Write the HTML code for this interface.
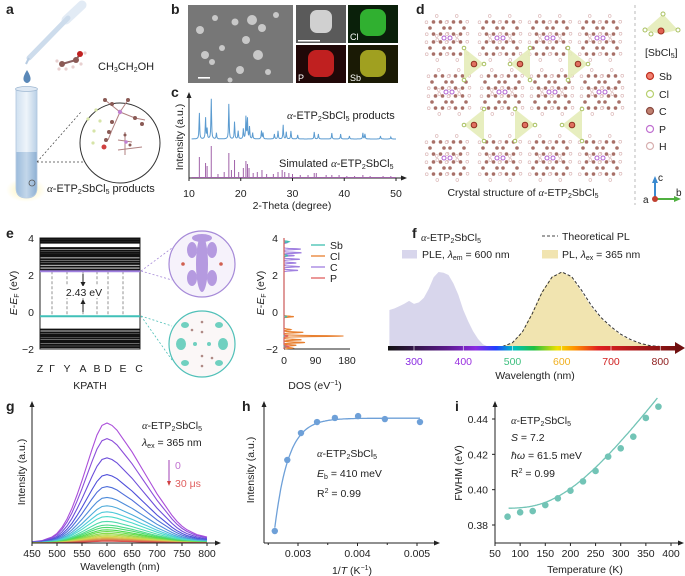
<!DOCTYPE html>
<html><head><meta charset="utf-8"><style>
html,body{margin:0;padding:0;background:#fff}
svg{display:block;font-family:"Liberation Sans",Arial,sans-serif}
text{fill:#222}
</style></head><body>
<svg id="fig" width="685" height="576" viewBox="0 0 685 576" xmlns="http://www.w3.org/2000/svg">
<defs>
<linearGradient id="tubeG" x1="0" x2="1"><stop offset="0" stop-color="#cfe0f0"/><stop offset="0.5" stop-color="#eef4fa"/><stop offset="1" stop-color="#b9d0e6"/></linearGradient>
<linearGradient id="liqG" x1="0" x2="1"><stop offset="0" stop-color="#9dbcdc"/><stop offset="0.5" stop-color="#c3d7ea"/><stop offset="1" stop-color="#8fb1d4"/></linearGradient>
<linearGradient id="specG" x1="388" x2="680" gradientUnits="userSpaceOnUse">
<stop offset="0" stop-color="#111"/><stop offset="0.2" stop-color="#5a1a8a"/><stop offset="0.3" stop-color="#8a2be2"/><stop offset="0.37" stop-color="#2040ff"/><stop offset="0.43" stop-color="#00c0c0"/><stop offset="0.5" stop-color="#20c040"/><stop offset="0.58" stop-color="#f0e000"/><stop offset="0.64" stop-color="#ff9000"/><stop offset="0.72" stop-color="#e02020"/><stop offset="1" stop-color="#701010"/></linearGradient>
<radialGradient id="glow"><stop offset="0" stop-color="#fff3b0"/><stop offset="1" stop-color="#fff3b0" stop-opacity="0"/></radialGradient>
</defs>

<g font-weight="bold" font-size="14">
<text x="6" y="14">a</text>
<text x="171" y="14">b</text>
<text x="171" y="97">c</text>
<text x="416" y="14">d</text>
<text x="6" y="238">e</text>
<text x="412" y="238">f</text>
<text x="6" y="411">g</text>
<text x="242" y="411">h</text>
<text x="455" y="411">i</text>
</g>

<g>
<g>
<line x1="82" y1="5" x2="66" y2="20" stroke="#e2ebf5" stroke-width="9" stroke-linecap="round"/>
<line x1="68" y1="18" x2="29" y2="58" stroke="#cddcec" stroke-width="5" stroke-linecap="round"/>
<line x1="29" y1="58" x2="26" y2="64" stroke="#b8cce2" stroke-width="2"/>
</g>
<path d="M27 70 Q22 78 24 81 Q27 85 30 81 Q32 78 27 70Z" fill="#5a88b8"/>
<g transform="translate(70,62)">
<line x1="-8" y1="2" x2="6" y2="-2" stroke="#8a6060" stroke-width="2"/><line x1="6" y1="-2" x2="10" y2="-8" stroke="#8a6060" stroke-width="2"/>
<circle cx="-8" cy="2" r="3" fill="#8a5a55"/><circle cx="6" cy="-2" r="3" fill="#8a5a55"/><circle cx="10" cy="-8" r="3" fill="#c02020"/>
<circle cx="-13" cy="-1" r="1.6" fill="#e8d0d0"/><circle cx="-11" cy="7" r="1.6" fill="#e8d0d0"/><circle cx="-4" cy="7" r="1.6" fill="#e8d0d0"/><circle cx="3" cy="5" r="1.6" fill="#e8d0d0"/><circle cx="11" cy="2" r="1.6" fill="#e8d0d0"/><circle cx="15" cy="-9" r="1.6" fill="#e8d0d0"/>
</g>
<text x="98" y="70" font-size="11">CH<tspan font-size="7" dy="2">3</tspan><tspan dy="-2">CH</tspan><tspan font-size="7" dy="2">2</tspan><tspan dy="-2">OH</tspan></text>
<ellipse cx="26" cy="190" rx="20" ry="12" fill="url(#glow)"/>
<g>
<path d="M16 89 L16 188 Q16 198 26.5 198 Q37 198 37 188 L37 89Z" fill="url(#tubeG)" stroke="#b0c6de" stroke-width="0.8"/>
<path d="M16.4 152 L16.4 188 Q16.4 197.5 26.5 197.5 Q36.6 197.5 36.6 188 L36.6 152Z" fill="url(#liqG)"/>
<ellipse cx="26.5" cy="89" rx="11" ry="2.5" fill="#dfe9f4" stroke="#9fb8d2" stroke-width="0.8"/>
<circle cx="32" cy="183" r="3" fill="none" stroke="#555" stroke-width="0.8"/>
</g>
<line x1="37" y1="162" x2="81" y2="112" stroke="#444" stroke-width="0.7" stroke-dasharray="2,2"/>
<line x1="37" y1="162" x2="153" y2="162" stroke="#444" stroke-width="0.7" stroke-dasharray="2,2"/>
<circle cx="120" cy="143" r="40" fill="#fff" stroke="#333" stroke-width="1"/>
<g stroke="#b08080" stroke-width="1">
<line x1="105" y1="100" x2="120" y2="112"/><line x1="120" y1="112" x2="128" y2="100"/><line x1="120" y1="112" x2="112" y2="130"/><line x1="112" y1="130" x2="108" y2="140"/><line x1="120" y1="112" x2="135" y2="118"/><line x1="135" y1="118" x2="145" y2="120"/>
<line x1="118" y1="140" x2="132" y2="142"/><line x1="125" y1="132" x2="125" y2="155"/><line x1="118" y1="150" x2="142" y2="147"/>
</g>
<g fill="#8a5a55"><circle cx="105" cy="100" r="2"/><circle cx="112" cy="104" r="2"/><circle cx="128" cy="100" r="2"/><circle cx="112" cy="122" r="2"/><circle cx="109" cy="132" r="2"/><circle cx="106" cy="140" r="2"/><circle cx="135" cy="118" r="2"/><circle cx="142" cy="124" r="2"/><circle cx="125" cy="135" r="1.5"/><circle cx="130" cy="145" r="1.5"/></g>
<circle cx="120" cy="112" r="2.2" fill="#c080d0"/><circle cx="126" cy="142" r="1.8" fill="#c080d0"/>
<g fill="#d6e4a8"><circle cx="96" cy="110" r="1.6"/><circle cx="88" cy="119" r="1.6"/><circle cx="100" cy="121" r="1.6"/><circle cx="94" cy="131" r="1.6"/><circle cx="93" cy="143" r="1.6"/></g>
<circle cx="104" cy="147" r="2.5" fill="#d04040"/>
<text x="47" y="192" font-size="11"><tspan font-style="italic" font-family="Liberation Serif">α</tspan>-ETP<tspan font-size="7" dy="2">2</tspan><tspan dy="-2">SbCl</tspan><tspan font-size="7" dy="2">5</tspan><tspan dy="-2"> products</tspan></text>
</g>

<g>
<rect x="188" y="5" width="105" height="78" fill="#777"/>
<g fill="#c8c8c8" id="semBlobs"></g>
<rect x="198" y="77" width="12" height="1.6" fill="#fff"/>
<rect x="296" y="5" width="50" height="38" fill="#5a5a5a"/>
<rect x="310" y="10" width="22" height="23" rx="7" fill="#d0d0d0"/>
<rect x="298" y="40" width="22" height="1.5" fill="#fff"/>
<rect x="348" y="5" width="50" height="38" fill="#0a200a"/>
<rect x="360" y="9" width="26" height="27" rx="8" fill="#30b030"/>
<text x="350" y="40" font-size="9" style="fill:#fff">Cl</text>
<rect x="296" y="45" width="50" height="38" fill="#200808"/>
<rect x="308" y="50" width="26" height="27" rx="8" fill="#c02020"/>
<text x="298" y="81" font-size="9" style="fill:#fff">P</text>
<rect x="348" y="45" width="50" height="38" fill="#1a1a05"/>
<rect x="360" y="50" width="26" height="27" rx="8" fill="#a0a020"/>
<text x="350" y="81" font-size="9" style="fill:#fff">Sb</text>
</g>

<g>
<line x1="189" y1="178" x2="189" y2="96" stroke="#222" stroke-width="1"/>
<path d="M189 92 l-2.5 6 h5z" fill="#222"/>
<line x1="189" y1="178" x2="403" y2="178" stroke="#222" stroke-width="1"/>
<path d="M407 178 l-6 -2.5 v5z" fill="#222"/>
<g id="cTicks"></g>
<path id="xrdObs" fill="none" stroke="#5b9bd0" stroke-width="1"/>
<g id="xrdSim" stroke="#a062a8" stroke-width="1"></g>
<text x="287" y="119" font-size="11"><tspan font-style="italic" font-family="Liberation Serif">α</tspan>-ETP<tspan font-size="7" dy="2">2</tspan><tspan dy="-2">SbCl</tspan><tspan font-size="7" dy="2">5</tspan><tspan dy="-2"> products</tspan></text>
<text x="279" y="167" font-size="11">Simulated <tspan font-style="italic" font-family="Liberation Serif">α</tspan>-ETP<tspan font-size="7" dy="2">2</tspan><tspan dy="-2">SbCl</tspan><tspan font-size="7" dy="2">5</tspan></text>
<text transform="translate(183,137) rotate(-90)" text-anchor="middle" font-size="10.5">Intensity (a.u.)</text>
<text x="292" y="209" text-anchor="middle" font-size="10.5">2-Theta (degree)</text>
</g>

<g>
<g id="crystal"></g>
<text x="523" y="196" text-anchor="middle" font-size="10.5">Crystal structure of <tspan font-style="italic" font-family="Liberation Serif">α</tspan>-ETP<tspan font-size="7" dy="2">2</tspan><tspan dy="-2">SbCl</tspan><tspan font-size="7" dy="2">5</tspan></text>
<line x1="635" y1="5" x2="635" y2="205" stroke="#aaa" stroke-width="0.8" stroke-dasharray="3,3"/>
<g>
<path d="M645 30 L663 14 L678 30 L660 34Z" fill="#e4ecb8" opacity="0.9"/>
<circle cx="663" cy="14" r="2" fill="#fff" stroke="#a8c060"/><circle cx="645" cy="30" r="2" fill="#fff" stroke="#a8c060"/><circle cx="678" cy="30" r="2" fill="#fff" stroke="#a8c060"/><circle cx="651" cy="34" r="2" fill="#fff" stroke="#a8c060"/>
<circle cx="661" cy="31" r="3" fill="#e06050" stroke="#a03020"/>
</g>
<text x="645" y="56" font-size="10.5">[SbCl<tspan font-size="7" dy="2">5</tspan><tspan dy="-2">]</tspan></text>
<g font-size="10.5">
<circle cx="650" cy="76" r="3.5" fill="#f08070" stroke="#c03020" stroke-width="1.2"/><text x="659" y="80">Sb</text>
<circle cx="650" cy="94" r="3.5" fill="#fff" stroke="#b8d070" stroke-width="1.2"/><text x="659" y="98">Cl</text>
<circle cx="650" cy="111" r="3.5" fill="#c08070" stroke="#8a4a40" stroke-width="1.2"/><text x="659" y="115">C</text>
<circle cx="650" cy="129" r="3.5" fill="#fff" stroke="#c070d0" stroke-width="1.2"/><text x="659" y="133">P</text>
<circle cx="650" cy="146" r="3.5" fill="#fff" stroke="#d8b0b0" stroke-width="1.2"/><text x="659" y="150">H</text>
</g>
<g>
<line x1="655" y1="199" x2="655" y2="182" stroke="#3a8ad0" stroke-width="2"/><path d="M655 176 l-3 7 h6z" fill="#3a8ad0"/>
<line x1="655" y1="199" x2="675" y2="199" stroke="#50b040" stroke-width="2"/><path d="M681 199 l-7 -3 v6z" fill="#50b040"/>
<circle cx="655" cy="199" r="3" fill="#c04030"/>
<text x="658" y="181" font-size="10">c</text><text x="676" y="196" font-size="10">b</text><text x="643" y="203" font-size="10">a</text>
</g>
</g>

<g>
<rect x="40" y="238" width="100" height="111" fill="none" stroke="#222" stroke-width="1"/>
<g id="eBands"></g>
<g id="eTicks" font-size="10.5"></g>
<text transform="translate(17,293) rotate(-90)" text-anchor="middle" font-size="10.5"><tspan font-style="italic">E</tspan>-<tspan font-style="italic">E</tspan><tspan font-size="7" dy="2">F</tspan><tspan dy="-2"> (eV)</tspan></text>
<text x="90" y="389" text-anchor="middle" font-size="10.5">KPATH</text>
<g>
<line x1="83" y1="274" x2="83" y2="284" stroke="#222"/><path d="M83 287 l-2.5 -5 h5z" fill="#222"/>
<line x1="83" y1="312" x2="83" y2="302" stroke="#222"/><path d="M83 299 l-2.5 5 h5z" fill="#222"/>
<rect x="66" y="286" width="36" height="12" fill="#fff"/>
<text x="84" y="296" text-anchor="middle" font-size="10.5">2.43 eV</text>
</g>
<line x1="141" y1="271" x2="172" y2="248" stroke="#a68ad8" stroke-width="0.8" stroke-dasharray="2,2"/>
<line x1="141" y1="271" x2="172" y2="280" stroke="#a68ad8" stroke-width="0.8" stroke-dasharray="2,2"/>
<line x1="141" y1="316" x2="172" y2="326" stroke="#50c0b8" stroke-width="0.8" stroke-dasharray="2,2"/>
<line x1="141" y1="316" x2="172" y2="360" stroke="#50c0b8" stroke-width="0.8" stroke-dasharray="2,2"/>
<g>
<circle cx="202" cy="264" r="33" fill="#f6f2fb" stroke="#a68ad8" stroke-width="1.2"/>
<g fill="#b59ae0"><ellipse cx="202" cy="264" rx="6" ry="28"/><ellipse cx="192" cy="250" rx="5" ry="8"/><ellipse cx="212" cy="250" rx="5" ry="8"/><ellipse cx="192" cy="278" rx="5" ry="8"/><ellipse cx="212" cy="278" rx="5" ry="8"/><ellipse cx="202" cy="238" rx="10" ry="4"/></g>
<circle cx="183" cy="264" r="1.8" fill="#d06050"/><circle cx="221" cy="264" r="1.8" fill="#d06050"/>
</g>
<g>
<circle cx="202" cy="344" r="33" fill="#fbf7f7" stroke="#50c0b8" stroke-width="1.2"/>
<g fill="#70d0c0"><ellipse cx="181" cy="344" rx="5" ry="6"/><ellipse cx="223" cy="344" rx="5" ry="6"/><ellipse cx="185" cy="325" rx="4" ry="3"/><ellipse cx="219" cy="325" rx="4" ry="3"/><ellipse cx="185" cy="363" rx="4" ry="3"/><ellipse cx="219" cy="363" rx="4" ry="3"/><circle cx="195" cy="344" r="2"/><circle cx="209" cy="344" r="2"/></g>
<g fill="#b08a85"><circle cx="202" cy="322" r="1.3"/><circle cx="202" cy="332" r="1.3"/><circle cx="202" cy="356" r="1.3"/><circle cx="202" cy="366" r="1.3"/><circle cx="192" cy="330" r="1.3"/><circle cx="212" cy="358" r="1.3"/></g>
</g>
<line x1="284" y1="349" x2="284" y2="238" stroke="#222"/>
<line x1="284" y1="349" x2="350" y2="349" stroke="#222"/>
<g id="dosTicks" font-size="10.5"></g>
<g id="dosLines"></g>
<g id="dosLegend" font-size="10.5"></g>
<text transform="translate(264,293) rotate(-90)" text-anchor="middle" font-size="10.5"><tspan font-style="italic">E</tspan>-<tspan font-style="italic">E</tspan><tspan font-size="7" dy="2">F</tspan><tspan dy="-2"> (eV)</tspan></text>
<text x="315" y="389" text-anchor="middle" font-size="10.5">DOS (eV<tspan font-size="7" dy="-4">−1</tspan><tspan dy="4">)</tspan></text>
</g>

<g>
<path id="pleArea" fill="#d8d6ec"/>
<path id="plArea" fill="#f1e4b0"/>
<path id="plTheory" fill="none" stroke="#333" stroke-width="1" stroke-dasharray="3,2"/>
<rect x="388" y="346" width="288" height="4.5" fill="url(#specG)"/>
<path d="M685 348 l-10 -6 v12z" fill="#701010"/>
<g id="fTicks" font-size="10.5"></g>
<text x="535" y="379" text-anchor="middle" font-size="10.5">Wavelength (nm)</text>
<text x="421" y="241" font-size="10.5"><tspan font-style="italic" font-family="Liberation Serif">α</tspan>-ETP<tspan font-size="7" dy="2">2</tspan><tspan dy="-2">SbCl</tspan><tspan font-size="7" dy="2">5</tspan></text>
<g><rect x="402" y="250" width="15" height="8.5" fill="#d8d6ec"/><text x="422" y="258" font-size="10.5">PLE, <tspan font-style="italic">λ</tspan><tspan font-size="7" dy="2">em</tspan><tspan dy="-2"> = 600 nm</tspan></text></g>
<g><line x1="542" y1="236" x2="558" y2="236" stroke="#444" stroke-dasharray="3,2"/><text x="562" y="240" font-size="10.5">Theoretical PL</text></g>
<g><rect x="542" y="250" width="16" height="8.5" fill="#f1e4b0"/><text x="562" y="258" font-size="10.5">PL, <tspan font-style="italic">λ</tspan><tspan font-size="7" dy="2">ex</tspan><tspan dy="-2"> = 365 nm</tspan></text></g>
</g>

<g>
<g id="gCurves"></g>
<line x1="32" y1="543" x2="32" y2="406" stroke="#222"/><path d="M32 401 l-2.5 6 h5z" fill="#222"/>
<line x1="32" y1="543" x2="216" y2="543" stroke="#222"/><path d="M221 543 l-6 -2.5 v5z" fill="#222"/>
<g id="gTicks" font-size="10.5"></g>
<text transform="translate(25,472) rotate(-90)" text-anchor="middle" font-size="10.5">Intensity (a.u.)</text>
<text x="120" y="570" text-anchor="middle" font-size="10.5">Wavelength (nm)</text>
<text x="142" y="429" font-size="10.5"><tspan font-style="italic" font-family="Liberation Serif">α</tspan>-ETP<tspan font-size="7" dy="2">2</tspan><tspan dy="-2">SbCl</tspan><tspan font-size="7" dy="2">5</tspan></text>
<text x="142" y="446" font-size="10.5"><tspan font-style="italic">λ</tspan><tspan font-size="7" dy="2">ex</tspan><tspan dy="-2"> = 365 nm</tspan></text>
<line x1="169" y1="460" x2="169" y2="482" stroke="#b060c0" stroke-width="1.2"/><path d="M169 486 l-2 -5 h4z" fill="#d04040"/>
<text x="175" y="469" font-size="10.5" style="fill:#c070d0">0</text>
<text x="175" y="487" font-size="10.5" style="fill:#e06060">30 μs</text>
</g>

<g>
<line x1="264" y1="543" x2="264" y2="406" stroke="#222"/><path d="M264 401 l-2.5 6 h5z" fill="#222"/>
<line x1="264" y1="543" x2="435" y2="543" stroke="#222"/><path d="M440 543 l-6 -2.5 v5z" fill="#222"/>
<g id="hTicks" font-size="10.5"></g>
<path id="hFit" fill="none" stroke="#6ea0d8" stroke-width="1.3"/>
<g id="hPts" fill="#6ea0d8"></g>
<text transform="translate(254,470) rotate(-90)" text-anchor="middle" font-size="10.5">Intensity (a.u.)</text>
<text x="352" y="574" text-anchor="middle" font-size="10.5">1/<tspan font-style="italic">T</tspan> (K<tspan font-size="7" dy="-4">−1</tspan><tspan dy="4">)</tspan></text>
<text x="317" y="457" font-size="10.5"><tspan font-style="italic" font-family="Liberation Serif">α</tspan>-ETP<tspan font-size="7" dy="2">2</tspan><tspan dy="-2">SbCl</tspan><tspan font-size="7" dy="2">5</tspan></text>
<text x="317" y="477" font-size="10.5"><tspan font-style="italic">E</tspan><tspan font-size="7" dy="2">b</tspan><tspan dy="-2"> = 410 meV</tspan></text>
<text x="317" y="497" font-size="10.5">R<tspan font-size="7" dy="-4">2</tspan><tspan dy="4"> = 0.99</tspan></text>
</g>

<g>
<line x1="495" y1="543" x2="495" y2="406" stroke="#222"/><path d="M495 401 l-2.5 6 h5z" fill="#222"/>
<line x1="495" y1="543" x2="679" y2="543" stroke="#222"/><path d="M684 543 l-6 -2.5 v5z" fill="#222"/>
<g id="iTicks" font-size="10.5"></g>
<path id="iFit" fill="none" stroke="#72c4b6" stroke-width="1.3"/>
<g id="iPts" fill="#72c4b6"></g>
<text transform="translate(462,473) rotate(-90)" text-anchor="middle" font-size="10.5">FWHM (eV)</text>
<text x="585" y="573" text-anchor="middle" font-size="10.5">Temperature (K)</text>
<text x="511" y="424" font-size="10.5"><tspan font-style="italic" font-family="Liberation Serif">α</tspan>-ETP<tspan font-size="7" dy="2">2</tspan><tspan dy="-2">SbCl</tspan><tspan font-size="7" dy="2">5</tspan></text>
<text x="511" y="441" font-size="10.5"><tspan font-style="italic">S</tspan> = 7.2</text>
<text x="511" y="459" font-size="10.5"><tspan font-style="italic">ħω</tspan> = 61.5 meV</text>
<text x="511" y="477" font-size="10.5">R<tspan font-size="7" dy="-4">2</tspan><tspan dy="4"> = 0.99</tspan></text>
</g>
</svg>
<script>
const xrdObsPos = [12.0,13.2,13.5,14.3,15.3,17.7,18.8,19.5,20.5,21.0,21.3,21.7,22.3,24.0,24.3,26.5,27.2,28.2,28.8,29.7,31.0,34.2,35.0,37.6,39.3,41.0,43.6,44.0,47.0,49.0];
const xrdObsInt = [26,21,10,40,6,35,17,8,10,22,20,12,6,8,6,5,8,14,7,8,4,7,5,6,5,3,6,5,3,2];
const xrdSimPos = [12.0,13.2,13.5,14.3,15.6,16.8,17.7,18.2,18.8,19.6,20.5,21.0,21.3,21.6,22.4,23.2,24.1,25.0,26.3,27.2,28.0,28.5,29.3,30.0,31.5,33.0,34.2,34.6,36.5,37.6,39.0,40.5,42.0,43.6,45.0,47.5,49.0];
const xrdSimInt = [21,15,12,32,4,6,25,8,18,6,10,17,14,10,5,6,8,4,4,6,8,6,5,4,3,3,5,5,3,3,3,2,2,3,2,2,2];
const cbBands = [2.3,2.45,2.6,2.72,2.85,3.0,3.1,3.2,3.32,3.45,3.75,3.85,3.95];
const vbBands = [-0.95,-1.1,-1.22,-1.3,-1.42,-1.55,-1.65,-1.78,-1.9];
const cbm = 2.2, vbm = -0.23;
const kLabels = ['Z','Γ','Y','A','B','D','E','C'];
const kPos = [0,0.12,0.27,0.43,0.57,0.68,0.83,0.99];
const eTickVals = [4,2,0,-2];
const dosE = {C:[2.25,2.45,2.65,2.85,3.05,3.2,3.4,3.75], Cl:[-0.25,-0.95,-1.1,-1.3,-1.5,-1.65,-1.8,-1.95], Sb:[3.8,3.05,-0.25,-1.9], P:[-1.3,-1.85]};
const dosV = {C:[40,45,35,45,30,50,48,10], Cl:[28,20,55,170,50,60,35,25], Sb:[15,10,8,5], P:[10,15]};
const dosTicks = [0,90,180];
const pleWl = [250,260,270,280,290,295,300,310,320,330,340,350,360,370,380,390,400,410,420,430,440,450,460];
const pleVal = [0.5,0.52,0.55,0.58,0.62,0.6,0.58,0.6,0.66,0.78,0.93,1.0,0.99,0.96,0.85,0.7,0.5,0.35,0.22,0.12,0.05,0.02,0];
const plWl = [460,480,500,520,540,560,580,600,620,640,660,680,700,720,740,760,780,800];
const plVal = [0,0.02,0.07,0.22,0.47,0.75,0.94,1.0,0.93,0.74,0.54,0.39,0.27,0.17,0.1,0.06,0.03,0.02];
const plTheory = [0,0.02,0.07,0.21,0.45,0.73,0.93,1.0,0.94,0.76,0.56,0.4,0.28,0.18,0.11,0.06,0.03,0.02];
const fTickVals = [300,400,500,600,700,800];
const fTickColors = ['#8a2be2','#9a30e0','#40c080','#f0b020','#d02020','#902020'];
const gWl = [450,460,470,480,490,500,510,520,530,540,550,560,570,580,590,600,610,620,630,640,650,660,670,680,690,700,710,720,730,740,750,760,770,780,790,800];
const gShape = [0.01,0.015,0.02,0.035,0.05,0.08,0.13,0.2,0.29,0.4,0.52,0.65,0.78,0.9,0.98,1.0,0.98,0.94,0.88,0.82,0.76,0.69,0.62,0.55,0.48,0.41,0.35,0.29,0.23,0.18,0.14,0.11,0.09,0.07,0.06,0.05];
const gAmps = [1,0.87,0.71,0.57,0.47,0.38,0.31,0.26,0.22,0.18,0.15,0.13,0.11,0.095,0.08,0.068,0.057,0.047,0.038,0.03,0.022,0.015];
const gTickVals = [450,500,550,600,650,700,750,800];
const hX = [0.00261,0.00282,0.00305,0.00332,0.00362,0.00401,0.00446,0.00505];
const hY = [0.085,0.589,0.78,0.858,0.887,0.9,0.879,0.858];
const hTickVals = [0.003,0.004,0.005];
const iT = [75,100,125,150,175,200,225,250,275,300,325,350,375];
const iF = [0.3847,0.3872,0.3879,0.3913,0.3951,0.3994,0.4047,0.4106,0.4187,0.4234,0.43,0.4406,0.447];
const iXTicks = [50,100,150,200,250,300,350,400];
const iYTicks = [0.38,0.40,0.42,0.44];

const NS='http://www.w3.org/2000/svg';
function mk(tag, parent){const e=document.createElementNS(NS,tag);parent.appendChild(e);return e;}
function $(id){return document.getElementById(id);}

const xC=t=>189+(t-10)*(396-189)/40;
const yE=E=>238+(4-E)*(349-238)/6;
const xK=f=>40+f*100;
const xD=d=>284+d*(347-284)/180;
const xF=l=>414+(l-300)*0.4925;
const yF=v=>348-v*76;
const xG=l=>32+(l-450)*(207-32)/350;
const yG=v=>543-v*120;
const xH=v=>298+(v-0.003)*59500;
const yH=v=>543-v*141;
const xI=T=>495+(T-50)*(671-495)/350;
const yI=v=>525-(v-0.38)/0.06*106;

[[200,30,4],[215,18,3],[235,22,3.5],[252,20,5],[262,28,4],[246,40,4],[205,55,4],[222,48,3],[258,55,5],[240,70,4],[268,72,3],[212,62,3],[230,80,2.5],[276,15,3]].forEach(b=>{const c=mk('circle',$('semBlobs'));c.setAttribute('cx',b[0]);c.setAttribute('cy',b[1]);c.setAttribute('r',b[2]);});

[10,20,30,40,50].forEach(t=>{const l=mk('line',$('cTicks'));l.setAttribute('x1',xC(t));l.setAttribute('x2',xC(t));l.setAttribute('y1',178);l.setAttribute('y2',181);l.setAttribute('stroke','#222');
const tx=mk('text',$('cTicks'));tx.setAttribute('x',xC(t));tx.setAttribute('y',197);tx.setAttribute('text-anchor','middle');tx.setAttribute('font-size','10.5');tx.textContent=t;

});
(function(){let d='';for(let t=10.5;t<=50;t+=0.05){let v=0;xrdObsPos.forEach((p,i)=>{v+=xrdObsInt[i]/(1+Math.pow((t-p)/0.07,2));});d+=(d?'L':'M')+xC(t).toFixed(1)+' '+(139-v).toFixed(1);}$('xrdObs').setAttribute('d',d);})();
xrdSimPos.forEach((p,i)=>{const l=mk('line',$('xrdSim'));l.setAttribute('x1',xC(p));l.setAttribute('x2',xC(p));l.setAttribute('y1',178);l.setAttribute('y2',178-xrdSimInt[i]);

});
(function(){const l=mk('line',$('xrdSim'));l.setAttribute('x1',xC(10.5));l.setAttribute('x2',xC(50));l.setAttribute('y1',177.5);l.setAttribute('y2',177.5);})();

(function(){const g=$('crystal');const cols=[447,500,550,600],rows=[38,92,158];
rows.forEach((cy,ri)=>cols.forEach((cx0,ci)=>{const cx=cx0+(ri===1?2:0);
for(let k=0;k<4;k++){const ax=cx+(k%2?10:-10),ay=cy+(k<2?-10:10);
for(let a=0;a<6;a++){const c=mk('circle',g);c.setAttribute('cx',ax+7*Math.cos(a*Math.PI/3));c.setAttribute('cy',ay+7*Math.sin(a*Math.PI/3));c.setAttribute('r',1.8);c.setAttribute('fill','#a87068');}
for(let a=0;a<6;a++){const c=mk('circle',g);c.setAttribute('cx',ax+12*Math.cos(a*Math.PI/3+0.5));c.setAttribute('cy',ay+12*Math.sin(a*Math.PI/3+0.5));c.setAttribute('r',1.4);c.setAttribute('fill','#fff');c.setAttribute('stroke','#d8b0b0');c.setAttribute('stroke-width','0.6');}}
[-3,3].forEach(dx=>{const c=mk('circle',g);c.setAttribute('cx',cx+dx);c.setAttribute('cy',cy);c.setAttribute('r',2);c.setAttribute('fill','#fff');c.setAttribute('stroke','#b060d0');});}));
[[474,64,1],[520,64,-1],[578,64,1],[474,125,-1],[525,125,1],[572,125,-1]].forEach(s=>{const p=mk('path',g);const x=s[0],y=s[1],d=s[2]*10;
p.setAttribute('d',`M${x-d} ${y-16} L${x+d} ${y} L${x-d} ${y+16}Z`);p.setAttribute('fill','#e4ecb8');p.setAttribute('opacity','0.9');
const c=mk('circle',g);c.setAttribute('cx',x);c.setAttribute('cy',y);c.setAttribute('r',2.8);c.setAttribute('fill','#e07060');c.setAttribute('stroke','#903020');
[[x-d,y-16],[x+d,y],[x-d,y+16]].forEach(q=>{const cc=mk('circle',g);cc.setAttribute('cx',q[0]);cc.setAttribute('cy',q[1]);cc.setAttribute('r',1.8);cc.setAttribute('fill','#fff');cc.setAttribute('stroke','#a8c060');});});})();

(function(){const g=$('eBands');
kPos.forEach((k,i)=>{if(i>0&&i<kPos.length-1){const l=mk('line',g);l.setAttribute('x1',xK(k));l.setAttribute('x2',xK(k));l.setAttribute('y1',yE(cbm));l.setAttribute('y2',yE(vbm));l.setAttribute('stroke','#666');l.setAttribute('stroke-width','0.7');l.setAttribute('stroke-dasharray','3,2');}
const t=mk('text',$('eTicks'));t.setAttribute('x',xK(k));t.setAttribute('y',372);t.setAttribute('text-anchor','middle');t.textContent=kLabels[i];

});
cbBands.concat(vbBands).forEach(E=>{const l=mk('line',g);l.setAttribute('x1',40);l.setAttribute('x2',140);l.setAttribute('y1',yE(E));l.setAttribute('y2',yE(E));l.setAttribute('stroke','#111');l.setAttribute('stroke-width','2');

});
const c1=mk('line',g);c1.setAttribute('x1',40);c1.setAttribute('x2',140);c1.setAttribute('y1',yE(cbm));c1.setAttribute('y2',yE(cbm));c1.setAttribute('stroke','#a080e0');c1.setAttribute('stroke-width','2');


const c2=mk('line',g);c2.setAttribute('x1',40);c2.setAttribute('x2',140);c2.setAttribute('y1',yE(vbm));c2.setAttribute('y2',yE(vbm));c2.setAttribute('stroke','#40c0b8');c2.setAttribute('stroke-width','2');


eTickVals.forEach(v=>{[[34,'e'],[278,'d']].forEach(o=>{const t=mk('text',o[1]==='e'?$('eTicks'):$('dosTicks'));t.setAttribute('x',o[0]);t.setAttribute('y',yE(v)+4);t.setAttribute('text-anchor','end');t.textContent=v<0?'−'+(-v):v;

});});
dosTicks.forEach(d=>{const t=mk('text',$('dosTicks'));t.setAttribute('x',xD(d));t.setAttribute('y',364);t.setAttribute('text-anchor','middle');t.textContent=d;

});
const cols={Sb:'#40c0b0',Cl:'#e88030',C:'#a080e0',P:'#e06060'};
['C','Cl','Sb','P'].forEach(sp=>{let d='';for(let E=-2;E<=4.001;E+=0.01){let v=0;dosE[sp].forEach((p,i)=>{v+=dosV[sp][i]*Math.exp(-Math.pow((E-p)/0.035,2));});d+=(d?'L':'M')+xD(v).toFixed(1)+' '+yE(E).toFixed(1);}
const p=mk('path',$('dosLines'));p.setAttribute('d',d);p.setAttribute('fill','none');p.setAttribute('stroke',cols[sp]);p.setAttribute('stroke-width','1.1');

});
['Sb','Cl','C','P'].forEach((sp,i)=>{const y=245+i*11;const l=mk('line',$('dosLegend'));l.setAttribute('x1',311);l.setAttribute('x2',325);l.setAttribute('y1',y);l.setAttribute('y2',y);l.setAttribute('stroke',cols[sp]);l.setAttribute('stroke-width','1.3');
const t=mk('text',$('dosLegend'));t.setAttribute('x',330);t.setAttribute('y',y+4);t.textContent=sp;

});})();

(function(){let d='M'+xF(pleWl[0])+' '+yF(0);pleWl.forEach((w,i)=>{d+='L'+xF(w).toFixed(1)+' '+yF(pleVal[i]).toFixed(1);});d+='L'+xF(pleWl[pleWl.length-1])+' '+yF(0)+'Z';$('pleArea').setAttribute('d',d);
let d2='M'+xF(plWl[0])+' '+yF(0),d3='';plWl.forEach((w,i)=>{d2+='L'+xF(w).toFixed(1)+' '+yF(plVal[i]).toFixed(1);d3+=(d3?'L':'M')+xF(w).toFixed(1)+' '+yF(plTheory[i]).toFixed(1);});d2+='L'+xF(800)+' '+yF(0)+'Z';
$('plArea').setAttribute('d',d2);$('plTheory').setAttribute('d',d3);
fTickVals.forEach((v,i)=>{const l=mk('line',$('fTicks'));l.setAttribute('x1',xF(v));l.setAttribute('x2',xF(v));l.setAttribute('y1',346);l.setAttribute('y2',351);l.setAttribute('stroke','#fff');l.setAttribute('stroke-width','0.6');
const t=mk('text',$('fTicks'));t.setAttribute('x',xF(v));t.setAttribute('y',365);t.setAttribute('text-anchor','middle');t.setAttribute('style','fill:'+fTickColors[i]);t.textContent=v;

});})();

(function(){const n=gAmps.length;gAmps.forEach((a,j)=>{let d='';gWl.forEach((w,i)=>{d+=(d?'L':'M')+xG(w).toFixed(1)+' '+yG(a*gShape[i]).toFixed(1);});
const h=280-j*(280/(n-1));const p=mk('path',$('gCurves'));p.setAttribute('d',d);p.setAttribute('fill','none');p.setAttribute('stroke','hsl('+h+',65%,58%)');p.setAttribute('stroke-width','1.1');

});
gTickVals.forEach(v=>{const l=mk('line',$('gTicks'));l.setAttribute('x1',xG(v));l.setAttribute('x2',xG(v));l.setAttribute('y1',543);l.setAttribute('y2',546);l.setAttribute('stroke','#222');
const t=mk('text',$('gTicks'));t.setAttribute('x',xG(v));t.setAttribute('y',557);t.setAttribute('text-anchor','middle');t.textContent=v;

});})();

(function(){let d='';for(let x=hX[0];x<=hX[hX.length-1]+1e-6;x+=0.00002){const v=0.885*(1-Math.exp(-(x-0.00258)/0.00023));d+=(d?'L':'M')+xH(x).toFixed(1)+' '+yH(v).toFixed(1);}$('hFit').setAttribute('d',d);
hX.forEach((x,i)=>{const c=mk('circle',$('hPts'));c.setAttribute('cx',xH(x));c.setAttribute('cy',yH(hY[i]));c.setAttribute('r',3.2);

});
hTickVals.forEach(v=>{const l=mk('line',$('hTicks'));l.setAttribute('x1',xH(v));l.setAttribute('x2',xH(v));l.setAttribute('y1',543);l.setAttribute('y2',546);l.setAttribute('stroke','#222');
const t=mk('text',$('hTicks'));t.setAttribute('x',xH(v));t.setAttribute('y',557);t.setAttribute('text-anchor','middle');t.textContent=v.toFixed(3);

});
[0.0025,0.0035,0.0045].forEach(v=>{const l=mk('line',$('hTicks'));l.setAttribute('x1',xH(v));l.setAttribute('x2',xH(v));l.setAttribute('y1',543);l.setAttribute('y2',545);l.setAttribute('stroke','#222');});})();

(function(){let d='';for(let T=77;T<=373;T+=2){const c=356.8/T;const coth=(Math.exp(2*c)+1)/(Math.exp(2*c)-1);const v=2.36*Math.sqrt(7.2)*0.0615*Math.sqrt(coth);d+=(d?'L':'M')+xI(T).toFixed(1)+' '+yI(v).toFixed(1);}$('iFit').setAttribute('d',d);
iT.forEach((T,i)=>{const c=mk('circle',$('iPts'));c.setAttribute('cx',xI(T));c.setAttribute('cy',yI(iF[i]));c.setAttribute('r',3.3);

});
iXTicks.forEach(v=>{const l=mk('line',$('iTicks'));l.setAttribute('x1',xI(v));l.setAttribute('x2',xI(v));l.setAttribute('y1',543);l.setAttribute('y2',546);l.setAttribute('stroke','#222');
const t=mk('text',$('iTicks'));t.setAttribute('x',xI(v));t.setAttribute('y',557);t.setAttribute('text-anchor','middle');t.textContent=v;

});
iYTicks.forEach(v=>{const l=mk('line',$('iTicks'));l.setAttribute('x1',492);l.setAttribute('x2',495);l.setAttribute('y1',yI(v));l.setAttribute('y2',yI(v));l.setAttribute('stroke','#222');
const t=mk('text',$('iTicks'));t.setAttribute('x',488);t.setAttribute('y',yI(v)+4);t.setAttribute('text-anchor','end');t.textContent=v.toFixed(2);

});})();
</script>
</body></html>
